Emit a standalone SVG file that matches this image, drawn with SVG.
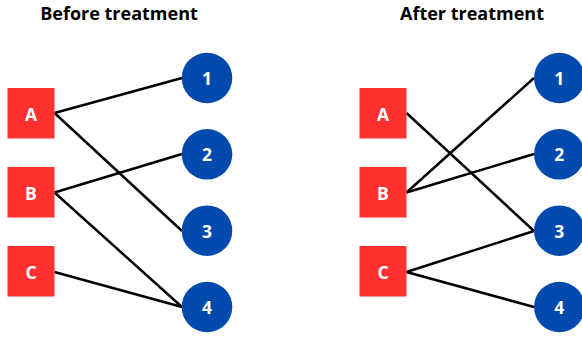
<svg xmlns="http://www.w3.org/2000/svg" width="582" height="337" viewBox="0 0 582 337">
<style>
.title{font-family:"Open Sans","Liberation Sans",sans-serif;font-weight:bold;font-size:18px;fill:#000;text-anchor:middle}
.lbl{font-family:"Open Sans","Liberation Sans",sans-serif;font-weight:bold;font-size:17.5px;fill:#fff;text-anchor:middle;dominant-baseline:central}
.sq{fill:#ff3131}
.ci{fill:#004aad}
.edge{stroke:#000;stroke-width:2.5;fill:none}
</style>
<rect width="582" height="337" fill="#fff"/>
<text class="title" x="119" y="19.5">Before treatment</text>
<text class="title" x="472" y="19.5">After treatment</text>
<g id="connectors">
<line class="edge" x1="54.5" y1="113" x2="182" y2="78"/>
<line class="edge" x1="54.5" y1="113" x2="182" y2="231"/>
<line class="edge" x1="54.5" y1="192.5" x2="182" y2="154"/>
<line class="edge" x1="54.5" y1="192.5" x2="182" y2="307"/>
<line class="edge" x1="54.5" y1="272" x2="182" y2="307"/>
<line class="edge" x1="406.5" y1="113" x2="534" y2="231"/>
<line class="edge" x1="406.5" y1="192.5" x2="534" y2="78"/>
<line class="edge" x1="406.5" y1="192.5" x2="534" y2="154"/>
<line class="edge" x1="406.5" y1="272" x2="534" y2="231"/>
<line class="edge" x1="406.5" y1="272" x2="534" y2="307"/>
</g>
<g id="L-A"><rect class="sq" x="7.5" y="88" width="47" height="50.5"/><text class="lbl" x="31" y="113.5">A</text></g>
<g id="L-B"><rect class="sq" x="7.5" y="167" width="47" height="50.5"/><text class="lbl" x="31" y="192.5">B</text></g>
<g id="L-C"><rect class="sq" x="7.5" y="246" width="47" height="50.5"/><text class="lbl" x="31" y="271.5">C</text></g>
<g id="L-1"><circle class="ci" cx="207" cy="78" r="25.3"/><text class="lbl" x="207" y="78">1</text></g>
<g id="L-2"><circle class="ci" cx="207" cy="154.3" r="25.3"/><text class="lbl" x="207" y="154.3">2</text></g>
<g id="L-3"><circle class="ci" cx="207" cy="230.7" r="25.3"/><text class="lbl" x="207" y="230.7">3</text></g>
<g id="L-4"><circle class="ci" cx="207" cy="307" r="25.3"/><text class="lbl" x="207" y="307">4</text></g>
<g id="R-A"><rect class="sq" x="359.5" y="88" width="47" height="50.5"/><text class="lbl" x="383" y="113.5">A</text></g>
<g id="R-B"><rect class="sq" x="359.5" y="167" width="47" height="50.5"/><text class="lbl" x="383" y="192.5">B</text></g>
<g id="R-C"><rect class="sq" x="359.5" y="246" width="47" height="50.5"/><text class="lbl" x="383" y="271.5">C</text></g>
<g id="R-1"><circle class="ci" cx="559.3" cy="78" r="25.3"/><text class="lbl" x="559.3" y="78">1</text></g>
<g id="R-2"><circle class="ci" cx="559.3" cy="154.3" r="25.3"/><text class="lbl" x="559.3" y="154.3">2</text></g>
<g id="R-3"><circle class="ci" cx="559.3" cy="230.7" r="25.3"/><text class="lbl" x="559.3" y="230.7">3</text></g>
<g id="R-4"><circle class="ci" cx="559.3" cy="307" r="25.3"/><text class="lbl" x="559.3" y="307">4</text></g>
</svg>
